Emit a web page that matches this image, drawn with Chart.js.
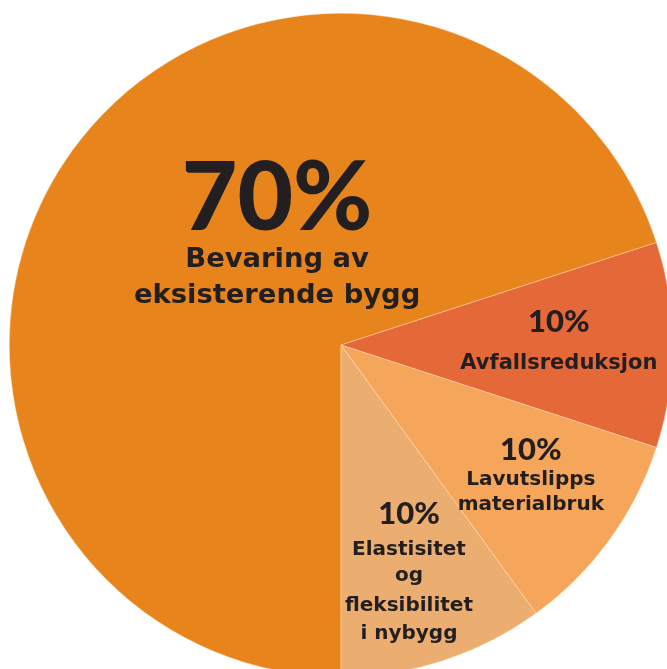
<!DOCTYPE html>
<html>
<head>
<meta charset="utf-8">
<script src="https://cdn.jsdelivr.net/npm/chart.js@4.4.1/dist/chart.umd.min.js"></script>
<style>
  html, body { margin: 0; padding: 0; background: #ffffff; overflow: hidden; width: 667px; height: 669px; }
  #wrap { position: absolute; left: 9px; top: 13px; width: 664px; height: 664px; }
</style>
</head>
<body>
<div id="wrap"><canvas id="c"></canvas></div>
<script>
// ---- data ----
const categories = ["Bevaring av eksisterende bygg", "Avfallsreduksjon", "Lavutslipps materialbruk", "Elastisitet og fleksibilitet i nybygg"];
const values = [70, 10, 10, 10];
const percentLabels = ["70%", "10%", "10%", "10%"];
const labelLines = [
  ["Bevaring av", "eksisterende bygg"],
  ["Avfallsreduksjon"],
  ["Lavutslipps", "materialbruk"],
  ["Elastisitet", "og", "fleksibilitet", "i nybygg"]
];

// ---- styling / layout ----
const sliceColors = ["#E8841C", "#E46838", "#F6A65B", "#ECAE70"];
const textColor = "#231F20";
const pctFont = "Lato, 'DejaVu Sans', sans-serif";
const txtFont = "'DejaVu Sans', sans-serif";
// anchor: angle (deg, canvas) and radius fraction for first line baseline; offsets for following lines
const labelLayout = [
  { angle: 240.9, frac: 0.396, pctSize: 96, txtSize: 27.4, offsets: [0, 37, 73] },
  { angle: -3.4, frac: 0.658, pctSize: 31, txtSize: 21, offsets: [0, 36.6] },
  { angle: 31.2, frac: 0.669, pctSize: 31, txtSize: 20, offsets: [0, 25, 50] },
  { angle: 69.2, frac: 0.577, pctSize: 31, txtSize: 20, offsets: [0, 31, 57, 87, 115] }
];

const labelPlugin = {
  id: 'sliceLabels',
  afterDatasetsDraw(chart) {
    const ctx = chart.ctx;
    const meta = chart.getDatasetMeta(0);
    meta.data.forEach((arc, i) => {
      const L = labelLayout[i];
      const a = L.angle * Math.PI / 180;
      const r = arc.outerRadius * L.frac;
      const x = arc.x + Math.cos(a) * r;
      const y = arc.y + Math.sin(a) * r;
      ctx.save();
      ctx.fillStyle = textColor;
      ctx.textAlign = 'center';
      ctx.textBaseline = 'alphabetic';
      ctx.font = `900 ${L.pctSize}px ${pctFont}`;
      ctx.fillText(percentLabels[i], x, y + L.offsets[0]);
      ctx.font = `700 ${L.txtSize}px ${txtFont}`;
      labelLines[i].forEach((line, j) => {
        ctx.fillText(line, x, y + L.offsets[j + 1]);
      });
      ctx.restore();
    });
  }
};

new Chart(document.getElementById('c'), {
  type: 'pie',
  data: {
    labels: categories,
    datasets: [{
      data: values,
      backgroundColor: sliceColors,
      borderColor: 'rgba(255,225,190,0.7)',
      borderWidth: 0.6
    }]
  },
  options: {
    responsive: true,
    maintainAspectRatio: false,
    animation: false,
    rotation: 180,
    layout: { padding: 0 },
    plugins: {
      legend: { display: false },
      tooltip: { enabled: false }
    }
  },
  plugins: [labelPlugin]
});
</script>
</body>
</html>
